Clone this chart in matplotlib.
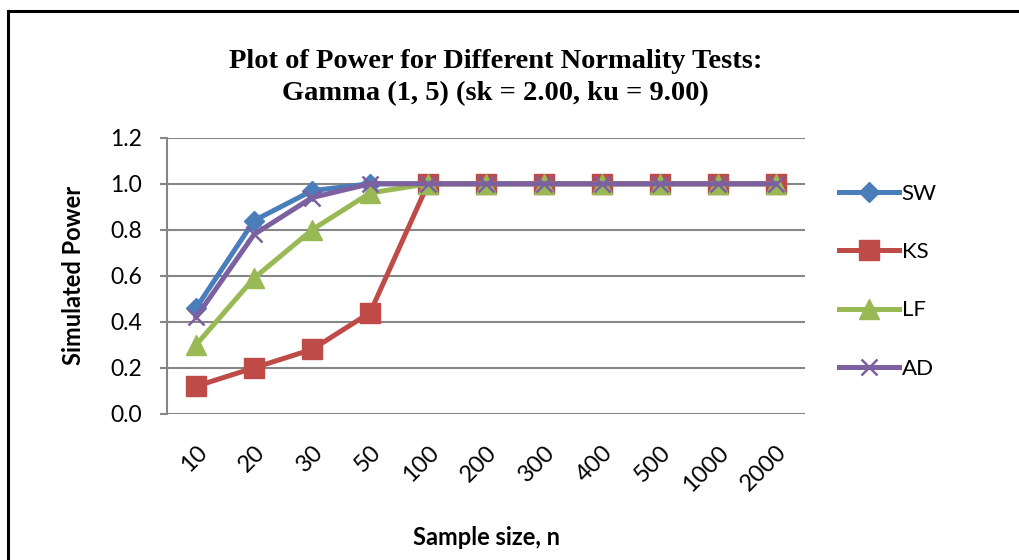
import matplotlib
matplotlib.use('Agg')
import matplotlib.pyplot as plt
from matplotlib.lines import Line2D

# data
sizes = ['10', '20', '30', '50', '100', '200', '300', '400', '500', '1000', '2000']
sw = [0.46, 0.84, 0.97, 1.00, 1.00, 1.00, 1.00, 1.00, 1.00, 1.00, 1.00]
ks = [0.12, 0.20, 0.28, 0.44, 1.00, 1.00, 1.00, 1.00, 1.00, 1.00, 1.00]
lf = [0.30, 0.59, 0.80, 0.96, 1.00, 1.00, 1.00, 1.00, 1.00, 1.00, 1.00]
ad = [0.42, 0.78, 0.94, 1.00, 1.00, 1.00, 1.00, 1.00, 1.00, 1.00, 1.00]

plt.rcParams['font.family'] = ['Lato', 'DejaVu Sans']

fig = plt.figure(figsize=(10.19, 5.6), dpi=100)
ax = fig.add_axes([0.164, 0.261, 0.626, 0.493])

x = range(len(sizes))
ax.plot(x, sw, color='#4A7EBB', lw=3.6, marker='D', ms=10, label='SW', zorder=3)
ax.plot(x, ks, color='#BE4B48', lw=3.6, marker='s', ms=14, label='KS', zorder=4)
ax.plot(x, lf, color='#98B954', lw=3.6, marker='^', ms=14, label='LF', zorder=5)
ax.plot(x, ad, color='#7D60A0', lw=3.6, marker='x', ms=12, mew=1.8, label='AD', zorder=6)

ax.set_xlim(-0.5, len(sizes) - 0.5)
ax.set_ylim(0, 1.2)
ax.set_yticks([0.0, 0.2, 0.4, 0.6, 0.8, 1.0, 1.2])
ax.set_yticklabels(['%.1f' % v for v in ax.get_yticks()], fontsize=16.5)
ax.set_xticks(list(x))
ax.set_xticklabels(sizes, rotation=45, ha='right', va='top', rotation_mode='anchor', fontsize=17)
ax.yaxis.grid(True, color='#868686', lw=1.5)
ax.set_axisbelow(True)
for s in ['top', 'right', 'bottom']:
    ax.spines[s].set_visible(False)
ax.spines['left'].set_color('#868686')
ax.spines['left'].set_linewidth(1.5)
ax.tick_params(axis='y', length=5, color='#868686', width=1.5, pad=13)
ax.tick_params(axis='x', length=0, pad=20)

ax.set_ylabel('Simulated Power', fontsize=17, fontweight='bold', labelpad=18)
ax.set_xlabel('Sample size, n', fontsize=17, fontweight='bold', labelpad=22)

fig.text(0.486, 0.862, 'Plot of Power for Different Normality Tests:\nGamma (1, 5) (sk = 2.00, ku = 9.00)',
         ha='center', va='center', fontsize=20.5, fontweight='bold',
         family='Liberation Serif', linespacing=1.38)

ax.legend(loc='upper left', bbox_to_anchor=(1.04, 0.865), frameon=False, fontsize=16,
          handlelength=2.7, handletextpad=0.1, labelspacing=1.72, borderaxespad=0)

# outer frame (only left and top edges visible)
fig.add_artist(Line2D([0.0075, 0.0075], [0.0, 0.981], color='black', lw=2.2))
fig.add_artist(Line2D([0.0075, 1.0], [0.981, 0.981], color='black', lw=2.2))

fig.savefig('out.png', dpi=100)
